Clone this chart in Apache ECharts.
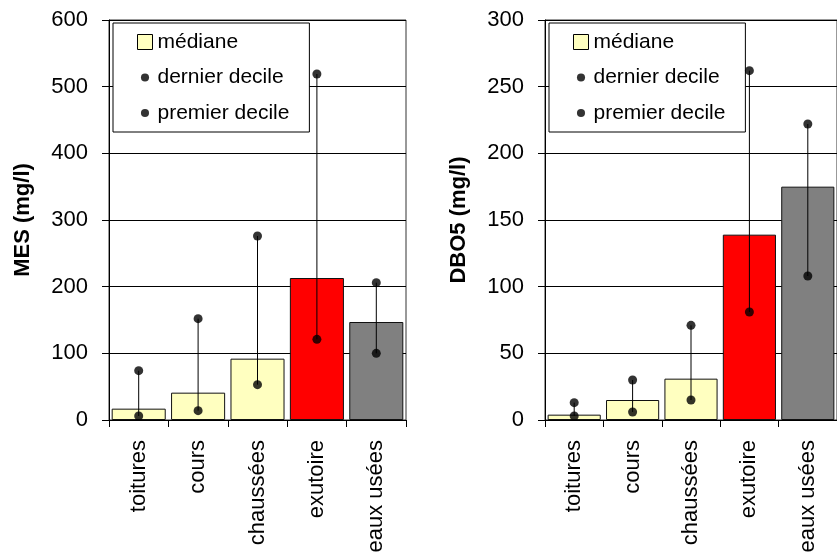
<!DOCTYPE html>
<html>
<head>
<meta charset="utf-8">
<script src="https://cdn.jsdelivr.net/npm/echarts@6/dist/echarts.min.js"></script>
<style>
html,body{margin:0;padding:0;background:#fff;}
#c{width:837px;height:557px;}
</style>
</head>
<body>
<div id="c"></div>
<script>
const categories = ['toitures', 'cours', 'chaussées', 'exutoire', 'eaux usées'];
const mesMedian = [17, 41, 92, 213, 147];
const mesLastDecile = [74, 152, 276, 519, 206];
const mesFirstDecile = [6, 14, 53, 121, 100];
const dboMedian = [4, 15, 31, 139, 175];
const dboLastDecile = [13, 30, 71, 262, 222];
const dboFirstDecile = [3, 6, 15, 81, 108];
const barColors = ['#FFFFC0', '#FFFFC0', '#FFFFC0', '#FF0000', '#808080'];
const mesTicks = { min: 0, max: 600, interval: 100 };
const dboTicks = { min: 0, max: 300, interval: 50 };

const FONT = "'Liberation Sans', Arial, sans-serif";
const dotIcon = 'path://M0 0M20 20M4.6 10A5.4 5.4 0 1 0 15.4 10A5.4 5.4 0 1 0 4.6 10Z';

function xAxis(gi) {
  return {
    type: 'category', gridIndex: gi, data: categories,
    axisLine: { lineStyle: { color: '#000', width: 1 } },
    axisTick: { show: true, length: 7, lineStyle: { color: '#000' } },
    axisLabel: { rotate: 90, fontSize: 22, color: '#000', fontFamily: FONT, margin: 20 }
  };
}
function yAxis(gi, ticks, name) {
  return {
    type: 'value', gridIndex: gi, min: ticks.min, max: ticks.max, interval: ticks.interval,
    name: name, nameLocation: 'middle', nameGap: 75, nameRotate: 90,
    nameTextStyle: { fontSize: 22, fontWeight: 'bold', color: '#000', fontFamily: FONT },
    axisLine: { show: true, lineStyle: { color: '#000', width: 1 } },
    axisTick: { show: true, length: 7, lineStyle: { color: '#000' } },
    axisLabel: { fontSize: 22, color: '#000', fontFamily: FONT, margin: 21 },
    splitLine: { show: true, lineStyle: { color: '#000', width: 1 } }
  };
}
function series(gi, median, last, first) {
  return [
    {
      name: 'médiane', type: 'bar', xAxisIndex: gi, yAxisIndex: gi,
      barCategoryGap: '9%',
      itemStyle: { color: '#FFFFC0', borderColor: '#111', borderWidth: 1 },
      data: median.map((v, i) => ({ value: v, itemStyle: { color: barColors[i] } })),
      z: 2
    },
    {
      name: 'whisker', type: 'custom', xAxisIndex: gi, yAxisIndex: gi,
      data: categories.map((c, i) => [i, first[i], last[i]]),
      encode: { x: 0, y: [1, 2] },
      renderItem: function (params, api) {
        const lo = api.coord([api.value(0), api.value(1)]);
        const hi = api.coord([api.value(0), api.value(2)]);
        return { type: 'line', shape: { x1: lo[0], y1: lo[1], x2: hi[0], y2: hi[1] },
          style: { stroke: '#000', lineWidth: 1 } };
      },
      z: 3
    },
    {
      name: 'dernier decile', type: 'scatter', xAxisIndex: gi, yAxisIndex: gi,
      symbol: 'circle', symbolSize: 9, itemStyle: { color: '#000' }, data: last, z: 4
    },
    {
      name: 'premier decile', type: 'scatter', xAxisIndex: gi, yAxisIndex: gi,
      symbol: 'circle', symbolSize: 9, itemStyle: { color: '#000' }, data: first, z: 4
    }
  ];
}
function legend(left) {
  return {
    left: left, top: 23, orient: 'vertical',
    padding: [8, 20, 8, 24], itemGap: 13.5, itemWidth: 15, itemHeight: 15,
    backgroundColor: '#fff', borderColor: '#000', borderWidth: 1,
    selectedMode: false,
    textStyle: { fontSize: 21, lineHeight: 22, color: '#000', fontFamily: FONT },
    data: [
      { name: 'médiane', icon: 'rect', itemStyle: { color: '#FFFFC0', borderColor: '#000', borderWidth: 1 } },
      { name: 'dernier decile', icon: dotIcon, itemStyle: { color: '#000' } },
      { name: 'premier decile', icon: dotIcon, itemStyle: { color: '#000' } }
    ]
  };
}

const chart = echarts.init(document.getElementById('c'), null, { renderer: 'canvas' });
chart.setOption({
  animation: false,
  backgroundColor: '#fff',
  textStyle: { fontFamily: FONT },
  grid: [
    { left: 109, top: 20, width: 297, height: 400, show: true, borderColor: '#333', borderWidth: 1, backgroundColor: 'transparent' },
    { left: 545, top: 20, width: 297.5, height: 400, show: true, borderColor: '#333', borderWidth: 1, backgroundColor: 'transparent' }
  ],
  legend: [legend(113), legend(549)],
  xAxis: [xAxis(0), xAxis(1)],
  yAxis: [yAxis(0, mesTicks, 'MES (mg/l)'), yAxis(1, dboTicks, 'DBO5 (mg/l)')],
  series: [].concat(
    series(0, mesMedian, mesLastDecile, mesFirstDecile),
    series(1, dboMedian, dboLastDecile, dboFirstDecile)
  )
});
</script>
</body>
</html>
